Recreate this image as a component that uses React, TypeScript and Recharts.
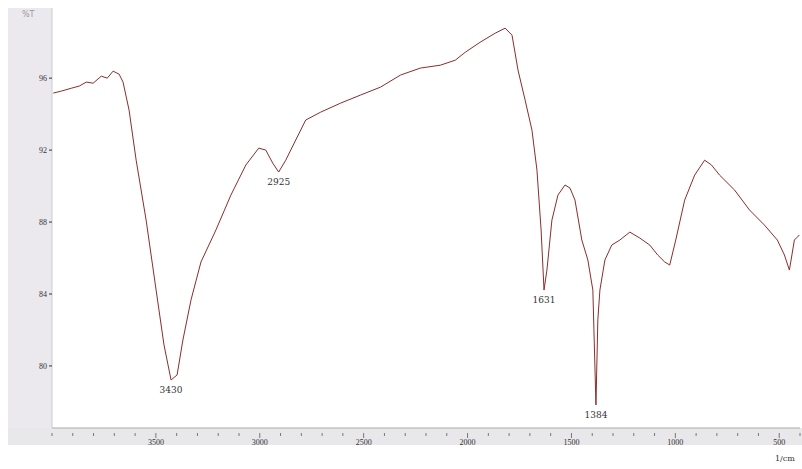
import React from "react";
import { LineChart, Line, XAxis, YAxis, LabelList } from "recharts";

// wavenumber (1/cm) and transmittance
const waves = [
  3994, 3955, 3907, 3869, 3835, 3802, 3763, 3734, 3706, 3677, 3658, 3629, 3595,
  3547, 3499, 3461, 3427, 3398, 3370, 3331, 3283, 3211, 3139, 3067, 3005, 2971,
  2938, 2909, 2875, 2827, 2779, 2707, 2611, 2515, 2419, 2323, 2227, 2131, 2059,
  2011, 1939, 1867, 1819, 1786, 1757, 1723, 1690, 1666, 1646, 1632, 1618, 1594,
  1565, 1531, 1507, 1483, 1450, 1421, 1397, 1382, 1373, 1363, 1339, 1306, 1267,
  1219, 1171, 1123, 1085, 1051, 1027, 998, 955, 907, 859, 826, 787, 715, 643,
  571, 509, 475, 451, 427, 403,
];
const trans = [
  95.17, 95.28, 95.44, 95.56, 95.78, 95.72, 96.11, 96.0, 96.39, 96.22, 95.78,
  94.22, 91.44, 88.11, 84.22, 81.17, 79.22, 79.5, 81.44, 83.67, 85.78, 87.56,
  89.5, 91.17, 92.11, 92.0, 91.28, 90.78, 91.44, 92.56, 93.67, 94.11, 94.61,
  95.06, 95.5, 96.17, 96.56, 96.72, 97.0, 97.44, 98.0, 98.5, 98.78, 98.39,
  96.44, 94.78, 93.11, 90.89, 87.56, 84.22, 85.33, 88.11, 89.5, 90.06, 89.89,
  89.22, 87.0, 85.89, 84.22, 77.83, 82.56, 84.22, 85.89, 86.72, 87.0, 87.44,
  87.11, 86.72, 86.17, 85.78, 85.61, 87.0, 89.22, 90.61, 91.44, 91.17, 90.61,
  89.78, 88.67, 87.83, 87.0, 86.17, 85.33, 87.0, 87.28,
];
// peak markers
const peakWaves = [3427, 2909, 1632, 1382];
const peakLabels = ["3430", "2925", "1631", "1384"];

const yTicks = [80, 84, 88, 92, 96];
const xTicks: number[] = [];
for (let w = 400; w <= 4000; w += 100) xTicks.push(w);

const data = waves.map((w, i) => {
  const k = peakWaves.indexOf(w);
  return { w, t: trans[i], peak: k >= 0 ? peakLabels[k] : "" };
});

const XTick = (props: any) => {
  const { x, y, payload } = props;
  const major = payload.value % 500 === 0 && payload.value < 4000;
  return (
    <g>
      <line x1={x} x2={x} y1={y - 3} y2={y + (major ? 2 : 0)} stroke="#777" />
      {major && (
        <text x={x} y={y + 9} textAnchor="middle" fontSize={8} fill="#333">
          {payload.value}
        </text>
      )}
    </g>
  );
};

const PeakLabel = (props: any) => {
  const { x, y, value } = props;
  if (!value) return null;
  return (
    <text x={x} y={y + 13} textAnchor="middle" fontSize={9} fill="#333" fontFamily="DejaVu Serif">
      {value}
    </text>
  );
};

export default function App() {
  return (
    <div style={{ position: "relative", width: 802, height: 469, background: "#fff" }}>
      <style>{"body{margin:0}"}</style>
      <div style={{ position: "absolute", left: 8, top: 8, width: 44, height: 437, background: "#ebe8ee" }} />
      <div style={{ position: "absolute", left: 8, top: 428, width: 794, height: 17, background: "#e8e7ea" }} />
      <div style={{ position: "absolute", left: 22, top: 10, fontSize: 8, color: "#999", fontFamily: "DejaVu Sans" }}>%T</div>
      <div style={{ position: "absolute", left: 775, top: 454, fontSize: 8, color: "#333", fontFamily: "DejaVu Serif" }}>1/cm</div>
      <LineChart
        width={802}
        height={469}
        data={data}
        margin={{ top: 8, right: 2, bottom: 0, left: 0 }}
        style={{ position: "absolute", left: 0, top: 0 }}
      >
        <XAxis
          dataKey="w"
          type="number"
          domain={[400, 4000]}
          reversed
          ticks={xTicks}
          interval={0}
          tick={<XTick />}
          tickLine={false}
          axisLine={{ stroke: "#aaa" }}
          height={41}
        />
        <YAxis
          type="number"
          domain={[76.55, 99.9]}
          ticks={yTicks}
          width={52}
          tick={{ fontSize: 8, fill: "#333" }}
          tickSize={3}
          tickLine={{ stroke: "#333" }}
          axisLine={{ stroke: "#ccc" }}
          allowDataOverflow
        />
        <Line
          type="linear"
          dataKey="t"
          stroke="#8a2d2d"
          strokeWidth={1}
          dot={false}
          isAnimationActive={false}
        >
          <LabelList dataKey="peak" content={<PeakLabel />} />
        </Line>
      </LineChart>
    </div>
  );
}
